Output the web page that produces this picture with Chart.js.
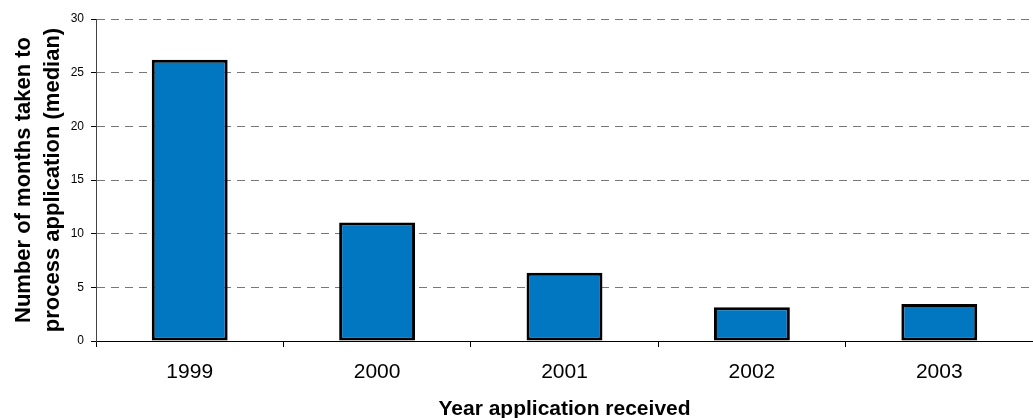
<!DOCTYPE html>
<html>
<head>
<meta charset="utf-8">
<script src="https://cdn.jsdelivr.net/npm/chart.js"></script>
<style>
  html, body { margin: 0; padding: 0; background: #fff; }
  #wrap { width: 1033px; height: 418px; }
</style>
</head>
<body>
<div id="wrap"><canvas id="chart"></canvas></div>
<script>
// anos e mediana de meses
const years = ['1999', '2000', '2001', '2002', '2003'];
const medianMonths = [26.2, 11.05, 6.35, 3.15, 3.45];
const yTicks = [0, 5, 10, 15, 20, 25, 30];

const font = 'Liberation Sans, Arial, sans-serif';

new Chart(document.getElementById('chart').getContext('2d'), {
    type: 'bar',
    data: {
        labels: years,
        datasets: [{
            data: medianMonths,
            backgroundColor: '#0077c0',
            borderColor: '#000',
            borderWidth: 3,
            borderSkipped: false,
            barPercentage: 0.405,
            categoryPercentage: 1
        }]
    },
    options: {
        responsive: true,
        maintainAspectRatio: false,
        animation: false,
        layout: { padding: { top: 19, right: 0, bottom: 0, left: 0 } },
        plugins: {
            legend: { display: false },
            tooltip: { enabled: false }
        },
        scales: {
            x: {
                grid: {
                    drawOnChartArea: false,
                    color: '#000',
                    tickLength: 6
                },
                border: { color: '#000', width: 1 },
                ticks: {
                    color: '#000',
                    padding: 13,
                    font: { family: font, size: 21 }
                },
                title: {
                    display: true,
                    text: 'Year application received',
                    color: '#000',
                    font: { family: font, size: 21, weight: 'bold', lineHeight: 1 },
                    padding: { top: 0, bottom: -2 }
                },
                afterFit: function (scale) { scale.height = 77; }
            },
            y: {
                min: 0,
                max: 30,
                afterBuildTicks: function (scale) {
                    scale.ticks = yTicks.map(v => ({ value: v }));
                },
                grid: {
                    color: '#777',
                    tickColor: '#000',
                    tickLength: 5,
                    tickBorderDash: []
                },
                border: { color: '#444', width: 1, dash: [8, 6] },
                ticks: {
                    color: '#000',
                    padding: 7,
                    font: { family: font, size: 12 }
                },
                title: {
                    display: true,
                    text: ['Number of months taken to', 'process application (median)'],
                    color: '#000',
                    font: { family: font, size: 22, weight: 'bold', lineHeight: 1.3 },
                    padding: { top: 10, bottom: 0 }
                },
                afterFit: function (scale) { scale.width = 96; }
            }
        }
    }
});
</script>
</body>
</html>
